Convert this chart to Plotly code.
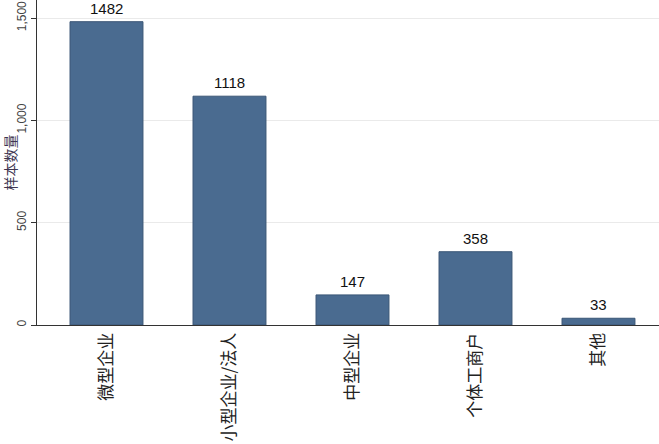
import plotly.graph_objects as go

categories = ["微型企业", "小型企业/法人", "中型企业", "个体工商户", "其他"]
values = [1482, 1118, 147, 358, 33]
y_ticks = [0, 500, 1000, 1500]
y_tick_labels = ["0", "500", "1,000", "1,500"]

FONT = "Liberation Sans, Arial, Noto Sans CJK SC, sans-serif"

fig = go.Figure(go.Bar(
    x=categories, y=values,
    width=0.593,
    marker=dict(color="#4a6b90", line=dict(color="#3a5676", width=1)),
    cliponaxis=False,
))

for c, v in zip(categories, values):
    fig.add_annotation(
        x=c, y=v, text=str(v), showarrow=False,
        yanchor="bottom", yshift=3,
        font=dict(size=15, color="#111111", family=FONT),
    )

fig.update_layout(
    width=659, height=444,
    margin=dict(l=37, r=0, t=0, b=119),
    paper_bgcolor="white", plot_bgcolor="white",
    font=dict(family=FONT),
    showlegend=False,
)
fig.update_xaxes(
    range=[-0.565, 4.492],
    showline=True, linecolor="#333333", linewidth=1,
    ticks="", tickangle=-90,
    tickfont=dict(size=17, color="#222222", family="Noto Sans CJK SC, sans-serif"),
    showgrid=False,
    automargin=False,
)
fig.update_yaxes(
    range=[0, 1588],
    tickvals=y_ticks, ticktext=y_tick_labels,
    tickangle=-90,
    tickfont=dict(size=12, color="#444444"),
    ticks="outside", ticklen=5, tickcolor="#333333",
    showline=True, linecolor="#333333", linewidth=1,
    showgrid=True, gridcolor="#eaeaea", gridwidth=1,
    zeroline=False,
    automargin=False,
    title=dict(text="样本数量", font=dict(size=14, color="#3d3550", family="Noto Sans CJK SC, sans-serif"), standoff=3),
)

fig.write_html(
    "out.html",
    config={"displayModeBar": False},
    post_script="document.body.style.margin='0';document.body.style.overflow='hidden';",
)
